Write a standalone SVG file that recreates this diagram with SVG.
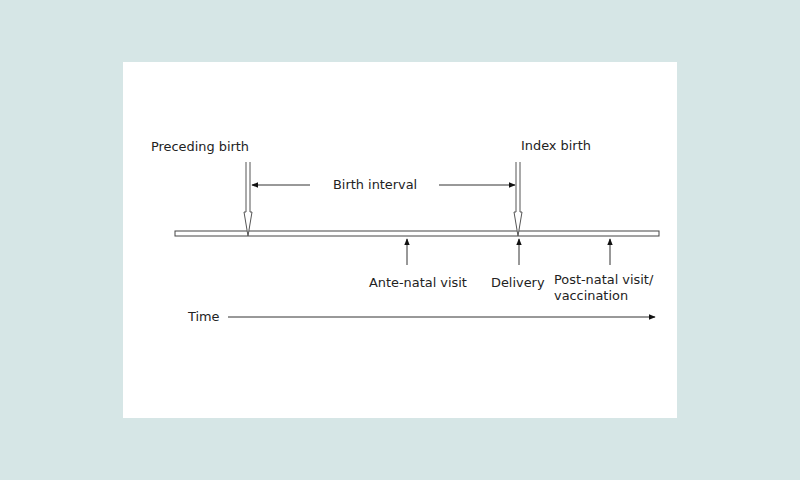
<svg xmlns="http://www.w3.org/2000/svg" width="800" height="480" viewBox="0 0 800 480">
<style>
text{font-family:"DejaVu Sans",Verdana,sans-serif;font-size:12.9px;fill:#222}
.ln{stroke:#333;stroke-width:1;fill:none}
.hollow{stroke:#555;stroke-width:1;fill:#fff}
</style>
<defs>
<marker id="ah" viewBox="0 0 10 10" refX="9" refY="5" markerWidth="7" markerHeight="7" markerUnits="userSpaceOnUse" orient="auto">
<path d="M0,1 L10,5 L0,9 Z" fill="#111"/>
</marker>
</defs>
<rect width="800" height="480" fill="#d6e6e6"/>
<rect x="123" y="62" width="554" height="356" fill="#fff"/>
<g id="timeline">
<rect x="175" y="231" width="484" height="5" fill="#fff" stroke="#444" stroke-width="1"/>
</g>
<g id="preceding-birth">
<text x="151" y="151">Preceding birth</text>
<path class="hollow" d="M246,162 V212 H244 L248,236 L252,212 H250 V162"/>
</g>
<g id="index-birth">
<text x="521" y="150">Index birth</text>
<path class="hollow" d="M516,162 V212 H514 L518,236 L522,212 H520 V162"/>
</g>
<g id="birth-interval">
<text x="333" y="189">Birth interval</text>
</g>
<g id="ante-natal">
<text x="369" y="287">Ante-natal visit</text>
</g>
<g id="delivery">
<text x="491" y="287">Delivery</text>
</g>
<g id="post-natal">
<text x="554" y="284">Post-natal visit/</text>
<text x="554" y="300">vaccination</text>
</g>
<g id="time">
<text x="188" y="321">Time</text>
</g>
<g id="connectors">
<line class="ln" x1="310" y1="185" x2="252" y2="185" marker-end="url(#ah)"/>
<line class="ln" x1="439" y1="185" x2="515" y2="185" marker-end="url(#ah)"/>
<line class="ln" x1="407" y1="265" x2="407" y2="239" marker-end="url(#ah)"/>
<line class="ln" x1="519" y1="265" x2="519" y2="239" marker-end="url(#ah)"/>
<line class="ln" x1="610" y1="265" x2="610" y2="239" marker-end="url(#ah)"/>
<line class="ln" x1="228" y1="317" x2="655" y2="317" stroke="#555" marker-end="url(#ah)"/>
</g>
</svg>
